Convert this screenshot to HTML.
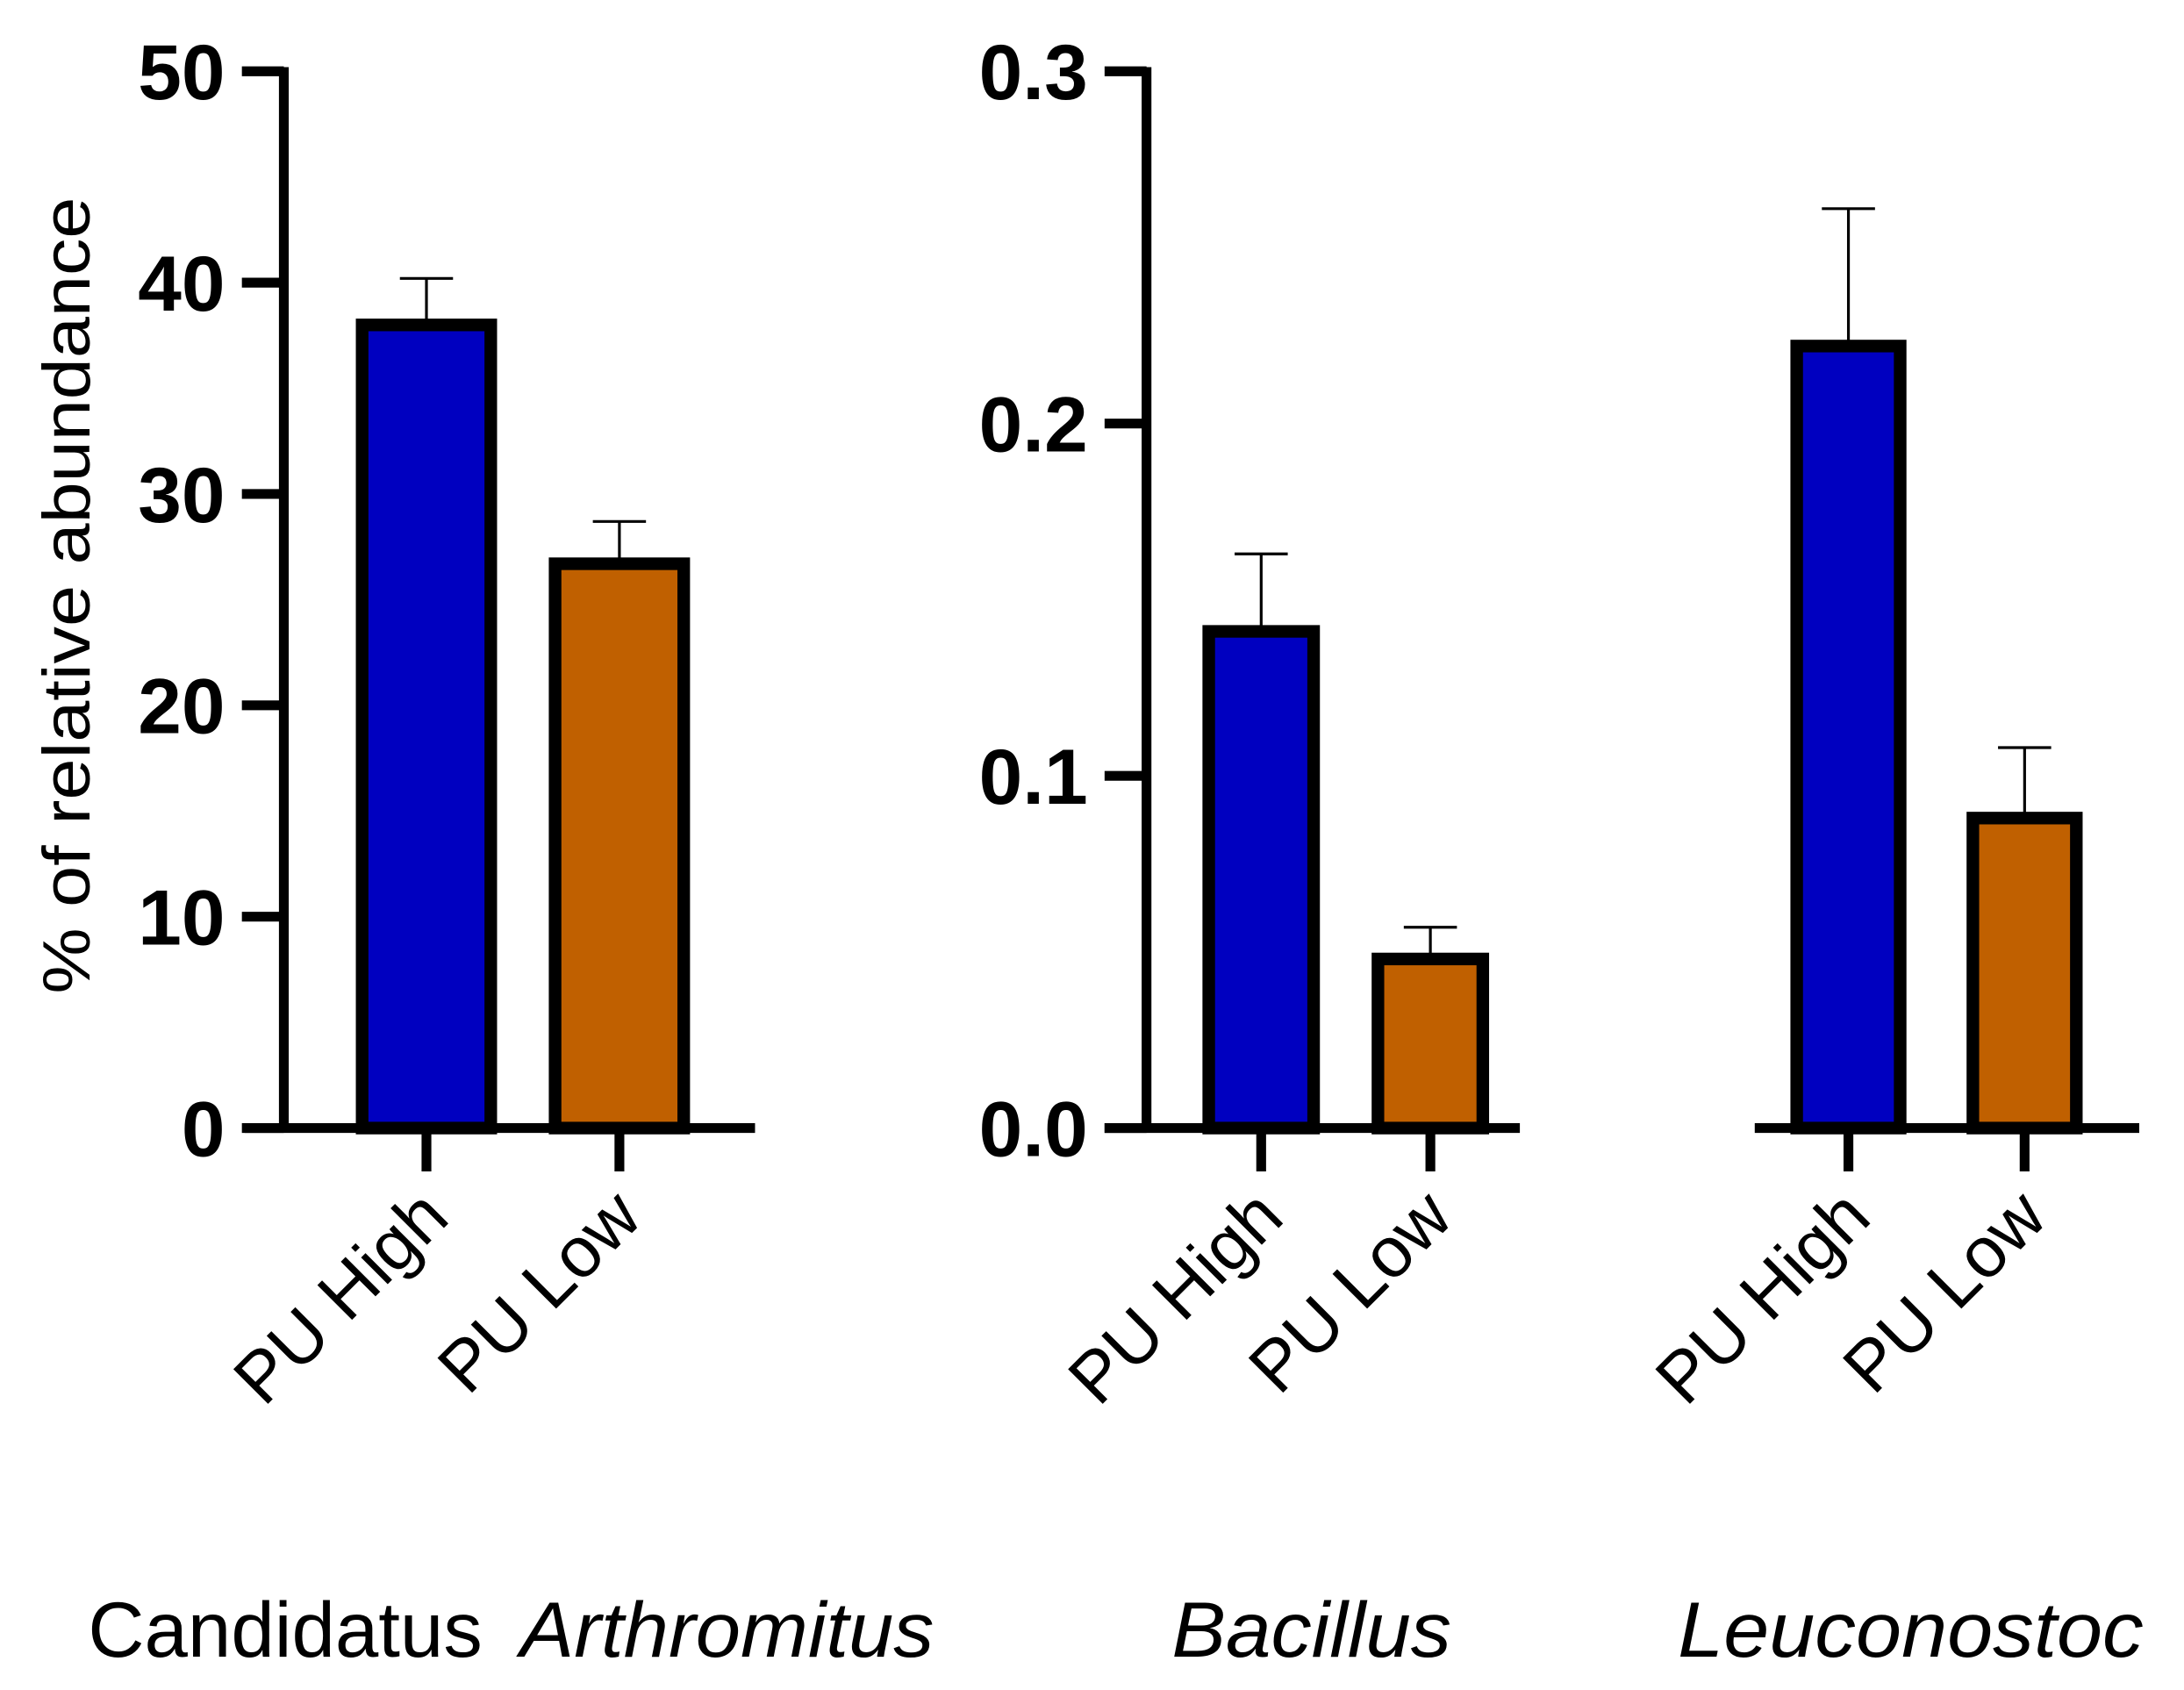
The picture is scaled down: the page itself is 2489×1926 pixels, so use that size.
<!DOCTYPE html>
<html><head><meta charset="utf-8"><style>html,body{margin:0;padding:0;background:#fff}svg{display:block}</style></head>
<body>
<svg id="chart" width="2489" height="1926" viewBox="0 0 1562 1209" preserveAspectRatio="none" xmlns="http://www.w3.org/2000/svg" font-family="Liberation Sans, Arial, sans-serif"></svg>
<script>
const categories = ["PU High", "PU Low"];
const panelTitles = ["Candidatus Arthromitus", "Bacillus", "Leuconostoc"];
const p1Values = [38.0, 26.7];
const p1Errors = [40.2, 28.7];
const p2Values = [0.141, 0.048];
const p2Errors = [0.163, 0.057];
const p3Values = [0.222, 0.088];
const p3Errors = [0.261, 0.108];
const p1Ticks = [0, 10, 20, 30, 40, 50];
const p1TickLabels = ["0", "10", "20", "30", "40", "50"];
const p2Ticks = [0, 0.1, 0.2, 0.3];
const p2TickLabels = ["0.0", "0.1", "0.2", "0.3"];
const colors = ["#0000c0", "#c06000"];

const NS = "http://www.w3.org/2000/svg";
const svg = document.getElementById("chart");
function mk(tag, attrs, parent) {
  const e = document.createElementNS(NS, tag);
  for (const k in attrs) e.setAttribute(k, attrs[k]);
  (parent || svg).appendChild(e);
  return e;
}
const Y0 = 807, YTOP = 51;
function yScale(max) { return v => Y0 - (v / max) * (Y0 - YTOP); }

const panels = [
  {vals: p1Values, errs: p1Errors, max: 50, ticks: p1Ticks, labels: p1TickLabels, axisX: 203, baseL: 175, baseR: 540, cx: [305, 443], bw: 92, name: "candidatus-arthromitus"},
  {vals: p2Values, errs: p2Errors, max: 0.3, ticks: p2Ticks, labels: p2TickLabels, axisX: 820, baseL: 790, baseR: 1087, cx: [902, 1023], bw: 75, name: "bacillus"},
  {vals: p3Values, errs: p3Errors, max: 0.3, ticks: null, labels: null, axisX: null, baseL: 1255, baseR: 1530, cx: [1322, 1448], bw: 74, name: "leuconostoc"}
];

panels.forEach((p, pi) => {
  const y = yScale(p.max);
  const g = mk("g", {});
  
  
  p.vals.forEach((v, i) => {
    const cx = p.cx[i];
    const eb = mk("line", {x1: cx, x2: cx, y1: y(p.errs[i]), y2: y(v), stroke: "#000", "stroke-width": 2}, g);
    
    
    const cap = mk("line", {x1: cx - 19, x2: cx + 19, y1: y(p.errs[i]), y2: y(p.errs[i]), stroke: "#000", "stroke-width": 2}, g);
    
    
    const r = mk("rect", {x: cx - p.bw / 2, y: y(v), width: p.bw, height: Y0 - y(v), fill: colors[i], stroke: "#000", "stroke-width": 9}, g);
    
    
    const t = mk("line", {x1: cx, x2: cx, y1: Y0, y2: 838, stroke: "#000", "stroke-width": 7}, g);
    
    
    const lx = cx + 18, ly = 873;
    const lab = mk("text", {x: lx, y: ly, "font-size": 51, "text-anchor": "end", transform: `rotate(-45 ${lx} ${ly})`}, g);
    lab.textContent = categories[i];
    
    
  });
  const base = mk("line", {x1: p.baseL, x2: p.baseR, y1: Y0, y2: Y0, stroke: "#000", "stroke-width": 7}, g);
  
  
  if (p.ticks) {
    const ax = mk("line", {x1: p.axisX, x2: p.axisX, y1: YTOP - 3, y2: Y0 + 3, stroke: "#000", "stroke-width": 7}, g);
    
    
    p.ticks.forEach((tv, ti) => {
      const tk = mk("line", {x1: p.axisX - 30, x2: p.axisX, y1: y(tv), y2: y(tv), stroke: "#000", "stroke-width": 7}, g);
      
      
      const tl = mk("text", {x: p.axisX - 42, y: y(tv) + 20, "font-size": 56, "font-weight": "bold", "text-anchor": "end"}, g);
      tl.textContent = p.labels[ti];
      
      
    });
  }
});

const yt = mk("text", {x: 64, y: 426, "font-size": 48, "text-anchor": "middle", textLength: 570, lengthAdjust: "spacingAndGlyphs", transform: "rotate(-90 64 426)"});
yt.textContent = "% of relative abundance";



const t1a = mk("text", {x: 63, y: 1185, "font-size": 56, textLength: 282, lengthAdjust: "spacingAndGlyphs"});
t1a.textContent = "Candidatus";


const t1b = mk("text", {x: 372, y: 1185, "font-size": 56, "font-style": "italic", textLength: 296, lengthAdjust: "spacingAndGlyphs"});
t1b.textContent = "Arthromitus";


const t2 = mk("text", {x: 838, y: 1185, "font-size": 56, "font-style": "italic", textLength: 200, lengthAdjust: "spacingAndGlyphs"});
t2.textContent = panelTitles[1];


const t3 = mk("text", {x: 1200, y: 1185, "font-size": 56, "font-style": "italic", textLength: 333, lengthAdjust: "spacingAndGlyphs"});
t3.textContent = panelTitles[2];


</script>
</body></html>
